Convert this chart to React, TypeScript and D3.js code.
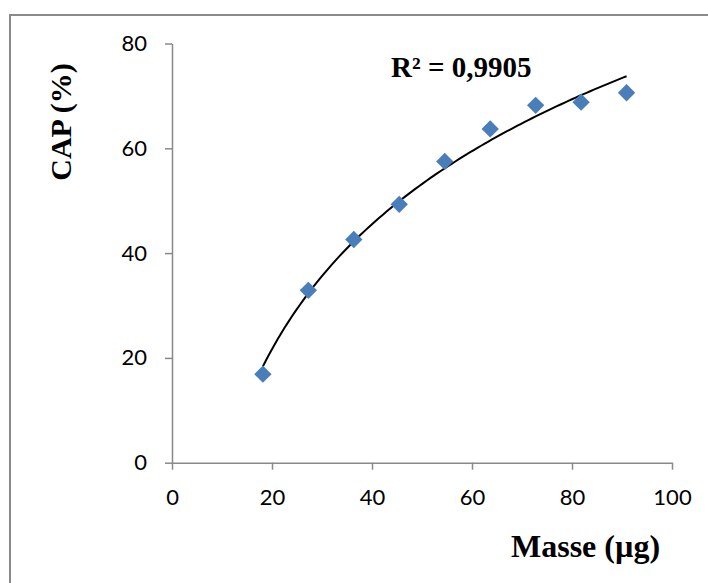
import { useRef, useEffect } from "react";
import * as d3 from "d3";

// mass (µg) and CAP (%)
const masse = [18.18, 27.27, 36.36, 45.45, 54.55, 63.64, 72.73, 81.82, 90.91];
const cap = [16.9, 32.9, 42.6, 49.3, 57.5, 63.7, 68.2, 68.8, 70.6];
const xTicks = [0, 20, 40, 60, 80, 100];
const yTicks = [0, 20, 40, 60, 80];
const r2Label = "R² = 0,9905";

const width = 708;
const height = 583;

const App = () => {
  const svgRef = useRef<SVGSVGElement>(null);

  useEffect(() => {
    const svg = d3.select(svgRef.current);
    svg.selectAll("*").remove();

    const x = d3.scaleLinear().domain([0, 100]).range([172, 672]);
    const y = d3.scaleLinear().domain([0, 80]).range([462.7, 43.5]);

    // outer frame (clipped on the right and bottom)
    svg
      .append("rect")
      .attr("x", 10)
      .attr("y", 15)
      .attr("width", 720)
      .attr("height", 600)
      .attr("fill", "none")
      .attr("stroke", "#8a8a8a")
      .attr("stroke-width", 2);

    // y axis
    const yAxis = d3
      .axisLeft(y)
      .tickValues(yTicks)
      .tickSize(7)
      .tickSizeOuter(0)
      .tickPadding(18);
    const yG = svg.append("g").attr("transform", `translate(${x(0)},0)`).call(yAxis);

    // x axis
    const xAxis = d3
      .axisBottom(x)
      .tickValues(xTicks)
      .tickSize(7)
      .tickSizeOuter(0)
      .tickPadding(20);
    const xG = svg.append("g").attr("transform", `translate(0,${y(0)})`).call(xAxis);

    [xG, yG].forEach((g) => {
      g.select(".domain").attr("stroke", "#898989").attr("stroke-width", 1.5);
      g.selectAll("line").attr("stroke", "#898989").attr("stroke-width", 1.5);
      g.selectAll("text")
        .attr("fill", "#000")
        .attr("font-family", "Lato, 'Open Sans', sans-serif")
        .attr("font-size", 22);
    });

    // logarithmic trendline, least squares on ln(x)
    const lx = masse.map((v) => Math.log(v));
    const mL = d3.mean(lx) as number;
    const mY = d3.mean(cap) as number;
    const a =
      d3.sum(lx, (l, i) => (l - mL) * (cap[i] - mY)) /
      d3.sum(lx, (l) => (l - mL) * (l - mL));
    const b = mY - a * mL;
    const [x0, x1] = d3.extent(masse) as [number, number];
    const trend = d3.range(0, 101).map((i) => {
      const xv = x0 + ((x1 - x0) * i) / 100;
      return [xv, a * Math.log(xv) + b];
    });

    svg
      .append("path")
      .datum(trend)
      .attr("fill", "none")
      .attr("stroke", "#000")
      .attr("stroke-width", 2)
      .attr(
        "d",
        d3
          .line<number[]>()
          .x((d) => x(d[0]))
          .y((d) => y(d[1]))
      );

    // markers (rotated squares)
    const diamond = d3.symbol().type(d3.symbolSquare).size(150);
    svg
      .selectAll("path.pt")
      .data(masse)
      .join("path")
      .attr("class", "pt")
      .attr("d", diamond)
      .attr("fill", "#4a7ebb")
      .attr("transform", (d, i) => `translate(${x(d)},${y(cap[i])}) rotate(45)`);

    // R² label
    svg
      .append("text")
      .attr("x", 391)
      .attr("y", 77)
      .attr("font-family", "'Liberation Serif', 'Times New Roman', serif")
      .attr("font-weight", "bold")
      .attr("font-size", 29)
      .text(r2Label);

    // axis titles
    svg
      .append("text")
      .attr("x", 511)
      .attr("y", 557)
      .attr("font-family", "'Liberation Serif', 'Times New Roman', serif")
      .attr("font-weight", "bold")
      .attr("font-size", 32)
      .text("Masse (µg)");

    svg
      .append("text")
      .attr("transform", `translate(71,122) rotate(-90)`)
      .attr("text-anchor", "middle")
      .attr("font-family", "'Liberation Serif', 'Times New Roman', serif")
      .attr("font-weight", "bold")
      .attr("font-size", 30)
      .text("CAP (%)");
  }, []);

  return (
    <svg
      ref={svgRef}
      width={width}
      height={height}
      style={{ position: "absolute", left: 0, top: 0, background: "#fff" }}
    ></svg>
  );
};

export default App;
